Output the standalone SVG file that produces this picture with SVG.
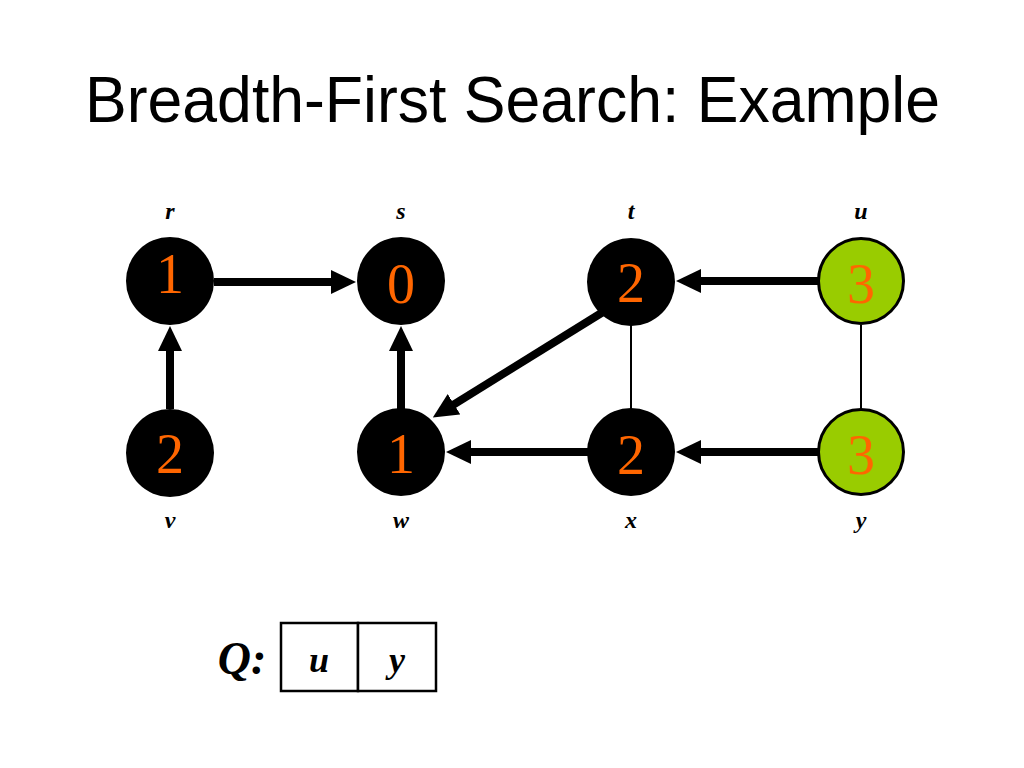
<svg xmlns="http://www.w3.org/2000/svg" width="1024" height="768" viewBox="0 0 1024 768">
<style>
.title{font-family:"Liberation Sans",Arial,sans-serif;font-size:64px;fill:#000}
.node{fill:#000}
.green{fill:#99cc00;stroke:#000;stroke-width:3}
.num{font-family:"Liberation Serif","Times New Roman",serif;font-size:56px;fill:#ff6600;text-anchor:middle}
.lbl{font-family:"Liberation Serif","Times New Roman",serif;font-size:24px;font-style:italic;font-weight:bold;fill:#000;text-anchor:middle}
.qlbl{font-family:"Liberation Serif","Times New Roman",serif;font-size:36px;font-style:italic;font-weight:bold;fill:#000;text-anchor:middle}
.arrow{stroke:#000;stroke-width:8;fill:none;marker-end:url(#head)}
.thin{stroke:#000;stroke-width:2;fill:none}
.box{fill:#fff;stroke:#000;stroke-width:2.5}
</style>
<defs>
<marker id="head" viewBox="0 0 25 24" refX="1" refY="12" markerWidth="25" markerHeight="24" markerUnits="userSpaceOnUse" orient="auto">
<path d="M0,0 L25,12 L0,24 z" fill="#000"/>
</marker>
</defs>
<rect width="1024" height="768" fill="#fff"/>
<text class="title" x="85" y="122" textLength="855" lengthAdjust="spacingAndGlyphs">Breadth-First Search: Example</text>

<g id="connectors">
<line class="arrow" x1="214" y1="282" x2="332" y2="282"/>
<line class="arrow" x1="170" y1="409" x2="170" y2="350"/>
<line class="arrow" x1="401" y1="409" x2="401" y2="350"/>
<line class="arrow" x1="603" y1="312" x2="453.2" y2="404.8"/>
<line class="arrow" x1="818" y1="281" x2="700" y2="281"/>
<line class="arrow" x1="588" y1="452" x2="470" y2="452"/>
<line class="arrow" x1="818" y1="452" x2="700" y2="452"/>
<line class="thin" x1="631" y1="325" x2="631" y2="409"/>
<line class="thin" x1="861" y1="325" x2="861" y2="409"/>
</g>

<g id="node-r">
<circle class="node" cx="170" cy="281" r="44"/>
<text class="num" x="170" y="293">1</text>
<text class="lbl" x="170" y="219">r</text>
</g>
<g id="node-s">
<circle class="node" cx="401" cy="281" r="44"/>
<text class="num" x="401" y="303">0</text>
<text class="lbl" x="401" y="219">s</text>
</g>
<g id="node-t">
<circle class="node" cx="631" cy="282" r="44"/>
<text class="num" x="631" y="302">2</text>
<text class="lbl" x="631" y="219">t</text>
</g>
<g id="node-u">
<circle class="green" cx="861" cy="281" r="42.5"/>
<text class="num" x="861" y="303">3</text>
<text class="lbl" x="861" y="219">u</text>
</g>
<g id="node-v">
<circle class="node" cx="170" cy="453" r="44"/>
<text class="num" x="170" y="473">2</text>
<text class="lbl" x="170" y="528">v</text>
</g>
<g id="node-w">
<circle class="node" cx="401" cy="452" r="44"/>
<text class="num" x="401" y="473">1</text>
<text class="lbl" x="401" y="528">w</text>
</g>
<g id="node-x">
<circle class="node" cx="631" cy="452" r="44"/>
<text class="num" x="631" y="474">2</text>
<text class="lbl" x="631" y="528">x</text>
</g>
<g id="node-y">
<circle class="green" cx="861" cy="452" r="42.5"/>
<text class="num" x="861" y="474">3</text>
<text class="lbl" x="861" y="528">y</text>
</g>

<g id="queue">
<text class="qlbl" x="242" y="674" style="font-size:46px">Q:</text>
<rect class="box" x="281" y="623" width="77" height="68"/>
<rect class="box" x="358" y="623" width="78" height="68"/>
<text class="qlbl" x="319" y="672">u</text>
<text class="qlbl" x="397" y="672">y</text>
</g>
</svg>
